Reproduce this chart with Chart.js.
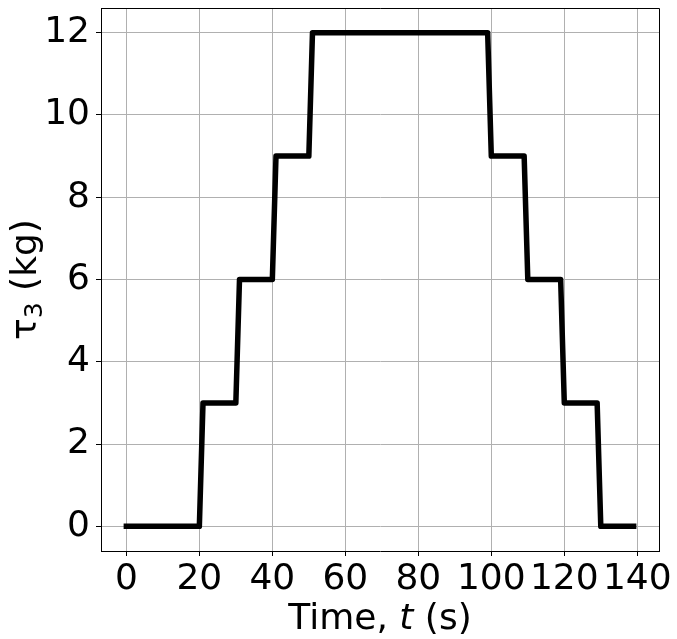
<!DOCTYPE html>
<html>
<head>
<meta charset="utf-8">
<script src="https://cdn.jsdelivr.net/npm/chart.js@4/dist/chart.umd.min.js"></script>
<style>
html,body{margin:0;padding:0;background:#fff;}
canvas{display:block;}
</style>
</head>
<body>
<canvas id="c" width="677" height="639"></canvas>
<script>
// Data
const timeValues = [0, 20, 21, 30, 31, 40, 41, 50, 51, 99, 100, 109, 110, 119, 120, 129, 130, 139];
const tau3Values = [0, 0, 3, 3, 6, 6, 9, 9, 12, 12, 9, 9, 6, 6, 3, 3, 0, 0];
const xTickValues = [0, 20, 40, 60, 80, 100, 120, 140];
const yTickValues = [0, 2, 4, 6, 8, 10, 12];
const xTitleParts = [["Time, ", "normal"], ["t", "italic"], [" (s)", "normal"]];
const yTitleMain = "τ";
const yTitleSub = "3";
const yTitleRest = " (kg)";

const FONT = '"DejaVu Sans"';
const points = timeValues.map((t, i) => ({x: t, y: tau3Values[i]}));

const framePlugin = {
  id: 'frame',
  afterDraw(chart) {
    const {ctx, chartArea: a} = chart;
    ctx.save();
    ctx.strokeStyle = '#000';
    ctx.lineWidth = 1;
    ctx.beginPath();
    ctx.moveTo(a.left, a.top + 0.5);
    ctx.lineTo(a.right + 0.5, a.top + 0.5);
    ctx.lineTo(a.right + 0.5, a.bottom);
    ctx.stroke();

    // x title
    ctx.fillStyle = '#000';
    ctx.textBaseline = 'alphabetic';
    let total = 0;
    const widths = xTitleParts.map(([s, st]) => {
      ctx.font = (st === 'italic' ? 'italic ' : '') + '36px ' + FONT;
      const w = ctx.measureText(s).width; total += w; return w;
    });
    let x = (a.left + a.right) / 2 - total / 2;
    xTitleParts.forEach(([s, st], i) => {
      ctx.font = (st === 'italic' ? 'italic ' : '') + '36px ' + FONT;
      ctx.textAlign = 'left';
      ctx.fillText(s, x, 629);
      x += widths[i];
    });

    // y title
    ctx.translate(36, (a.top + a.bottom) / 2);
    ctx.rotate(-Math.PI / 2);
    ctx.font = '36px ' + FONT;
    const w1 = ctx.measureText(yTitleMain).width;
    const w3 = ctx.measureText(yTitleRest).width;
    ctx.font = '25px ' + FONT;
    const w2 = ctx.measureText(yTitleSub).width;
    let px = -(w1 + w2 + w3) / 2;
    ctx.textAlign = 'left';
    ctx.font = '36px ' + FONT;
    ctx.fillText(yTitleMain, px, 0); px += w1;
    ctx.font = '25px ' + FONT;
    ctx.fillText(yTitleSub, px, 6); px += w2;
    ctx.font = '36px ' + FONT;
    ctx.fillText(yTitleRest, px, 0);
    ctx.restore();
  }
};

new Chart(document.getElementById('c'), {
  type: 'scatter',
  data: {
    datasets: [{
      data: points,
      showLine: true,
      borderColor: '#000',
      backgroundColor: '#000',
      borderWidth: 5.5,
      pointRadius: 0,
      tension: 0,
      borderJoinStyle: 'round',
      borderCapStyle: 'square'
    }]
  },
  options: {
    responsive: false,
    animation: false,
    devicePixelRatio: 1,
    layout: {padding: {top: 8, right: 18, left: 0, bottom: 0}},
    plugins: {legend: {display: false}, tooltip: {enabled: false}},
    scales: {
      x: {
        type: 'linear',
        min: -6.95, max: 145.95,
        afterBuildTicks: s => { s.ticks = xTickValues.map(v => ({value: v})); },
        afterFit: s => { s.height = 88; s.paddingLeft = 0; s.paddingRight = 0; },
        ticks: {font: {family: 'DejaVu Sans', size: 36}, color: '#000', padding: 2, maxRotation: 0, autoSkip: false},
        grid: {color: '#b0b0b0', lineWidth: 1, tickColor: '#000', tickLength: 5, drawTicks: true},
        border: {display: true, color: '#000', width: 1}
      },
      y: {
        type: 'linear',
        min: -0.6, max: 12.6,
        afterBuildTicks: s => { s.ticks = yTickValues.map(v => ({value: v})); },
        afterFit: s => { s.width = 101; s.paddingTop = 0; s.paddingBottom = 0; },
        ticks: {font: {family: 'DejaVu Sans', size: 36}, color: '#000', padding: 6, autoSkip: false},
        grid: {color: '#b0b0b0', lineWidth: 1, tickColor: '#000', tickLength: 5, drawTicks: true},
        border: {display: true, color: '#000', width: 1}
      }
    }
  },
  plugins: [framePlugin]
});
</script>
</body>
</html>
